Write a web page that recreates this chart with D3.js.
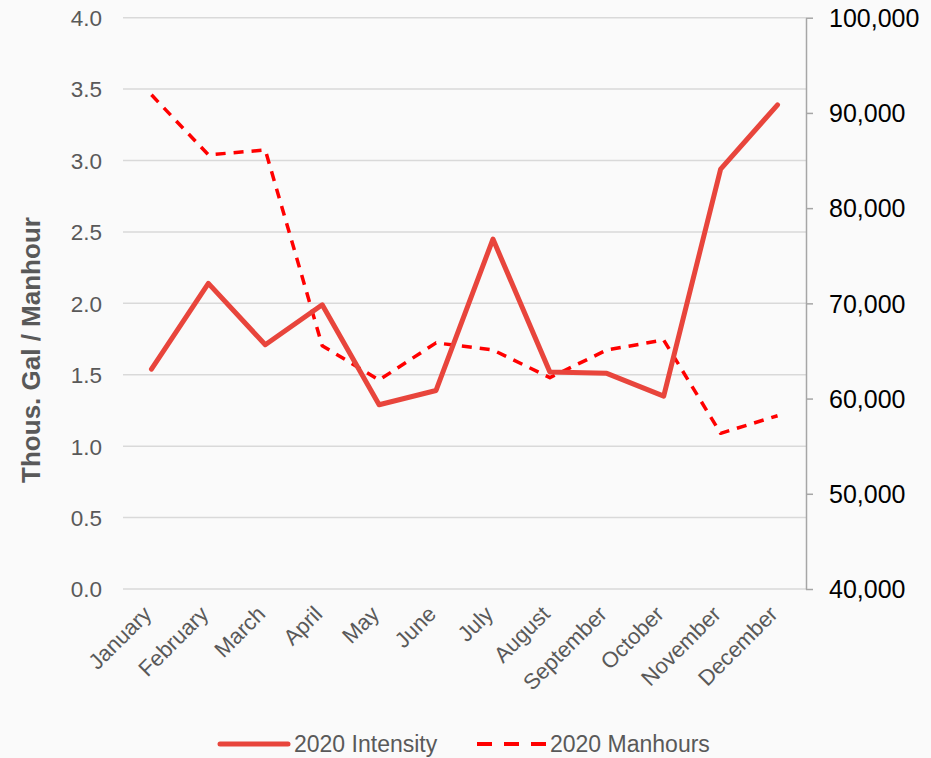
<!DOCTYPE html>
<html><head><meta charset="utf-8">
<script src="https://cdn.jsdelivr.net/npm/d3@7"></script>
<style>body{margin:0;background:#fafafa;} svg{display:block;}</style>
</head><body>
<svg id="c" width="931" height="758"></svg>
<script>
const months = ["January","February","March","April","May","June","July","August","September","October","November","December"];
const intensity = [1.54, 2.14, 1.71, 1.99, 1.29, 1.39, 2.45, 1.52, 1.51, 1.35, 2.94, 3.39];
const manhours = [91900, 85600, 86100, 65550, 61950, 65850, 65100, 62200, 65100, 66150, 56350, 58200];
const leftTicks = [0, 0.5, 1.0, 1.5, 2.0, 2.5, 3.0, 3.5, 4.0];
const rightTicks = [40000, 50000, 60000, 70000, 80000, 90000, 100000];
const seriesNames = ["2020 Intensity", "2020 Manhours"];

const svg = d3.select("#c");
svg.append("rect").attr("width",931).attr("height",758).attr("fill","#fafafa");
const L = 123, R = 806, T = 17.7, B = 589;
const font = "Liberation Sans, Arial, sans-serif";

const x = d3.scaleBand().domain(months).range([L, R]);
const yL = d3.scaleLinear().domain([0, 4]).range([B, T]);
const yR = d3.scaleLinear().domain([40000, 100000]).range([B, T]);

// gridlines
svg.append("g").selectAll("line").data(leftTicks).join("line")
  .attr("x1", L).attr("x2", R)
  .attr("y1", d => yL(d)).attr("y2", d => yL(d))
  .attr("stroke", "#d9d9d9").attr("stroke-width", 1.5);

// left axis
const gl = svg.append("g").attr("transform", `translate(${L},0)`)
  .call(d3.axisLeft(yL).tickValues(leftTicks).tickFormat(d3.format(".1f")).tickSize(0).tickPadding(21));
gl.select(".domain").remove();
gl.selectAll("text").attr("font-family", font).attr("font-size", 22.5).attr("fill", "#595959").attr("dy","0.35em");

// right axis
const gr = svg.append("g").attr("transform", `translate(${R},0)`)
  .call(d3.axisRight(yR).tickValues(rightTicks).tickFormat(d3.format(",")).tickSize(7).tickSizeOuter(0).tickPadding(16));
gr.select(".domain").attr("stroke", "#a6a6a6").attr("stroke-width", 1.5);
gr.selectAll("line").attr("stroke", "#a6a6a6").attr("stroke-width", 1.5);
gr.selectAll("text").attr("font-family", font).attr("font-size", 25).attr("fill", "#000").attr("dy","0.35em");

// x axis labels
const gx = svg.append("g").attr("transform", `translate(0,${B})`)
  .call(d3.axisBottom(x).tickSize(0).tickPadding(0));
gx.select(".domain").remove();
gx.selectAll("text")
  .attr("font-family", font).attr("font-size", 22).attr("fill", "#595959")
  .attr("text-anchor", "end")
  .attr("transform", "translate(-4,21) rotate(-45)")
  .attr("dy", "0.35em").attr("y", 0);

// axis title
svg.append("text")
  .attr("transform", `translate(40,350) rotate(-90)`)
  .attr("text-anchor", "middle")
  .attr("font-family", font).attr("font-size", 26).attr("font-weight", "bold").attr("fill", "#595959")
  .text("Thous. Gal / Manhour");

const cx = d => x(d) + x.bandwidth() / 2;

// manhours dashed line
svg.append("path")
  .datum(months.map((m, i) => [cx(m), yR(manhours[i])]))
  .attr("d", d3.line())
  .attr("fill", "none").attr("stroke", "#ff0000").attr("stroke-width", 3.5)
  .attr("stroke-dasharray", "10,8").attr("stroke-linejoin", "round");

// intensity solid line
svg.append("path")
  .datum(months.map((m, i) => [cx(m), yL(intensity[i])]))
  .attr("d", d3.line())
  .attr("fill", "none").attr("stroke", "#e8453c").attr("stroke-width", 5)
  .attr("stroke-linejoin", "round").attr("stroke-linecap", "round");

// legend
const lg = svg.append("g");
const ly = 744;
lg.append("line").attr("x1", 220).attr("x2", 288).attr("y1", ly).attr("y2", ly)
  .attr("stroke", "#e8453c").attr("stroke-width", 5).attr("stroke-linecap", "round");
lg.append("text").attr("x", 294).attr("y", ly).attr("dy", "0.35em")
  .attr("font-family", font).attr("font-size", 23).attr("fill", "#595959").text(seriesNames[0]);
lg.append("line").attr("x1", 477).attr("x2", 546).attr("y1", ly).attr("y2", ly)
  .attr("stroke", "#ff0000").attr("stroke-width", 4).attr("stroke-dasharray", "15,12");
lg.append("text").attr("x", 550).attr("y", ly).attr("dy", "0.35em")
  .attr("font-family", font).attr("font-size", 23).attr("fill", "#595959").text(seriesNames[1]);
</script>
</body></html>
